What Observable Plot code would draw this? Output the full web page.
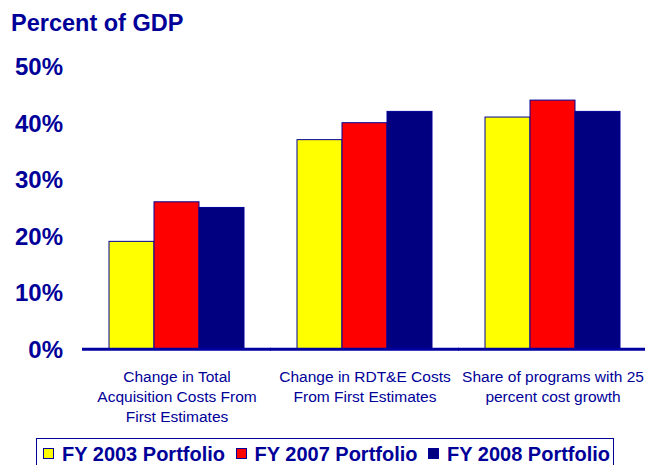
<!DOCTYPE html>
<html>
<head>
<meta charset="utf-8">
<script src="https://cdn.jsdelivr.net/npm/d3@7"></script>
<script src="https://cdn.jsdelivr.net/npm/@observablehq/plot@0.6"></script>
<style>
  html, body { margin: 0; padding: 0; background: #ffffff; }
  #page { position: relative; width: 645px; height: 465px; overflow: hidden; font-family: "Liberation Sans", Arial, sans-serif; color: #000099; }
  #title { position: absolute; left: 11px; top: 11px; font-size: 23.5px; line-height: 24px; font-weight: bold; white-space: nowrap; }
  #chart { position: absolute; left: 0; top: 45px; }
  #legend { position: absolute; left: 36px; top: 437.5px; width: 578px; border: 1.5px solid #000099; box-sizing: border-box; padding: 3px 0 0 6px; display: flex; height: 32px; align-items: flex-start; }
  .item { display: flex; align-items: center; height: 24px; margin-right: 10.5px; }
  .sw { width: 11px; height: 11px; border: 1px solid #000099; box-sizing: border-box; margin-right: 8px; }
  .lab { font-size: 20px; font-weight: bold; line-height: 24px; white-space: nowrap; }
</style>
</head>
<body>
<div id="page">
  <div id="title">Percent of GDP</div>
  <div id="chart"></div>
  <div id="legend"></div>
</div>
<script>
// ---- data ----
const categories = [
  "Change in Total Acquisition Costs From First Estimates",
  "Change in RDT&E Costs From First Estimates",
  "Share of programs with 25 percent cost growth"
];
const categoryLabels = [
  "Change in Total\nAcquisition Costs From\nFirst Estimates",
  "Change in RDT&E Costs\nFrom First Estimates",
  "Share of programs with 25\npercent cost growth"
];
const series = ["FY 2003 Portfolio", "FY 2007 Portfolio", "FY 2008 Portfolio"];
const fy2003 = [19, 37, 41];
const fy2007 = [26, 40, 44];
const fy2008 = [25, 42, 42];
const yTicks = [0, 10, 20, 30, 40, 50];

// ---- styles ----
const colors = ["#ffff00", "#ff0000", "#000080"];
const ink = "#000099";

const seriesValues = [fy2003, fy2007, fy2008];
const data = [];
categories.forEach((c, i) => {
  series.forEach((s, j) => {
    data.push({category: c, series: s, value: seriesValues[j][i]});
  });
});

const chart = Plot.plot({
  width: 645,
  height: 385,
  marginLeft: 82,
  marginRight: 0,
  marginTop: 21.2,
  marginBottom: 81.3,
  style: {fontFamily: '"Liberation Sans", Arial, sans-serif', background: "transparent", color: ink, overflow: "visible"},
  fx: {domain: categories, range: [82, 647], paddingInner: 0.283, paddingOuter: 0.1415, label: null},
  x: {domain: series, padding: 0, axis: null},
  y: {domain: [0, 50], label: null},
  color: {domain: series, range: colors},
  marks: [
    Plot.barY(data, {fx: "category", x: "series", y: "value", fill: "series", stroke: ink, strokeWidth: 1}),
    Plot.ruleY([0], {stroke: "#0000a0", strokeWidth: 3, insetLeft: -27, insetRight: -27}),
    Plot.axisY({ticks: yTicks, tickFormat: d => d + "%", tickSize: 0, tickPadding: 46.5, fontSize: 24, fontWeight: "bold", fill: ink, label: null, dy: 1}),
    Plot.axisFx({anchor: "bottom", tickSize: 0, tickPadding: 18.5, fontSize: 15.5, lineHeight: 1.29, fill: ink, label: null,
      tickFormat: d => categoryLabels[categories.indexOf(d)]})
  ]
});
document.getElementById("chart").appendChild(chart);

// legend
const legend = document.getElementById("legend");
series.forEach((s, i) => {
  const item = document.createElement("div");
  item.className = "item";
  const sw = document.createElement("div");
  sw.className = "sw";
  sw.style.background = colors[i];
  const lab = document.createElement("div");
  lab.className = "lab";
  lab.textContent = s;
  item.appendChild(sw);
  item.appendChild(lab);
  legend.appendChild(item);
});
</script>
</body>
</html>
